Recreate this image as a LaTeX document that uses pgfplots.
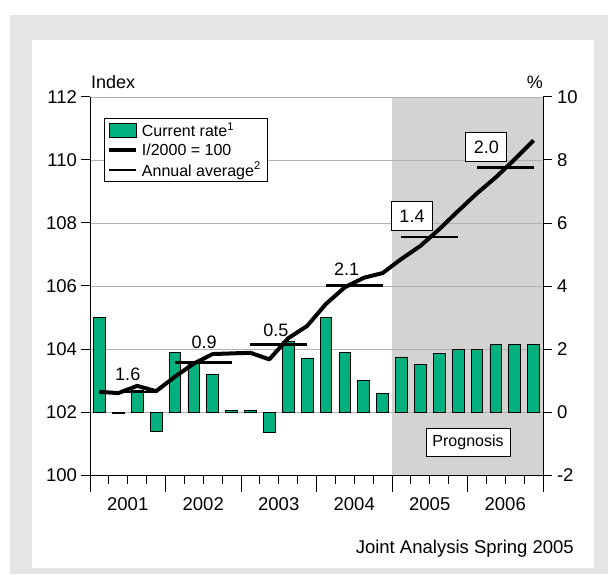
\documentclass[border=0pt]{standalone}
\usepackage{pgfplots}
\pgfplotsset{compat=1.18}
\usepackage{fontspec}
\setmainfont{Liberation Sans}
\definecolor{bargreen}{RGB}{0,176,126}
\definecolor{proggray}{RGB}{211,211,211}
\definecolor{framegray}{RGB}{229,229,229}
\definecolor{gridgray}{RGB}{178,178,178}

\pgfplotsset{
  base/.style={
    scale only axis, width=453pt, height=378pt,
    at={(90pt,99pt)}, anchor=south west,
    xmin=0.5, xmax=24.5,
    /pgf/number format/assume math mode=true,
    tick label style={font=\fontsize{18.5}{21}\selectfont},
  }
}

\begin{document}
\begin{tikzpicture}[x=1pt,y=1pt]
\useasboundingbox (0,0) rectangle (608,574);
\fill[white] (0,0) rectangle (608,574);
\fill[framegray] (10,0) rectangle (608,559);
\fill[white] (32,6) rectangle (594,534);

% prognosis background
\begin{axis}[base, ymin=-2, ymax=10, hide axis]
  \fill[proggray] (axis cs:16.5,-2) rectangle (axis cs:24.5,10);
\end{axis}

% bars, right axis, x axis
\begin{axis}[base, ymin=-2, ymax=10,
  axis x line*=bottom, axis y line*=right,
  axis line style={line width=1pt, black},
  ytick={-2,0,...,10}, yticklabels={-2,0,2,4,6,8,10},
  yticklabel style={xshift=2pt},
  ymajorgrids, grid style={gridgray, line width=0.8pt},
  tick align=outside, major tick length=8.5pt, minor tick length=8.5pt,
  tick style={black, line width=1pt},
  xtick={2.5,6.5,...,22.5}, xticklabels={2001,2002,2003,2004,2005,2006},
  minor xtick={1.5,3.5,5.5,7.5,9.5,11.5,13.5,15.5,17.5,19.5,21.5,23.5},
  extra x ticks={0.5,4.5,...,24.5}, extra x tick labels={},
  extra x tick style={major tick length=17pt},
  xticklabel style={yshift=-11pt},
]
\addplot[ybar, bar width=11.7pt, bar shift=0pt, fill=bargreen, draw=black, line width=0.7pt]
coordinates {
(1,3.0) (2,-0.03) (3,0.7) (4,-0.6) (5,1.9) (6,1.55) (7,1.2) (8,0.05)
(9,0.05) (10,-0.65) (11,2.25) (12,1.7) (13,3.0) (14,1.9) (15,1.0) (16,0.6)
(17,1.75) (18,1.5) (19,1.85) (20,2.0) (21,2.0) (22,2.15) (23,2.15) (24,2.15)
};
\end{axis}

% index line, left axis
\begin{axis}[base, ymin=100, ymax=112, clip=false,
  hide x axis, axis y line*=left,
  axis line style={line width=1pt, black},
  ytick={100,102,...,112},
  yticklabel style={xshift=-1pt},
  tick align=outside, major tick length=8.5pt,
  tick style={black, line width=1pt},
  legend style={at={(rel axis cs:0.031,0.944)}, anchor=north west,
    draw=black, line width=0.8pt, fill=white,
    font=\fontsize{16}{19}\selectfont,
    inner xsep=3pt, inner ysep=4pt, row sep=5.5pt,
    nodes={inner xsep=3.5pt, inner ysep=0pt}, cells={anchor=west}},
  legend image code/.code={\draw[#1] (0pt,0pt) -- (27pt,0pt);},
]
\addlegendimage{legend image code/.code={\draw[fill=bargreen,draw=black,line width=0.8pt] (0pt,-7pt) rectangle (27pt,7pt);}}
\addlegendentry{Current rate\textsuperscript{1}}

\addplot[black, line width=4pt, line join=round] coordinates {
(1,102.64) (2,102.60) (3,102.83) (4,102.66) (5,103.12) (6,103.54) (7,103.84) (8,103.86)
(9,103.88) (10,103.67) (11,104.34) (12,104.73) (13,105.43) (14,105.96) (15,106.26) (16,106.41)
(17,106.86) (18,107.27) (19,107.80) (20,108.38) (21,108.94) (22,109.45) (23,110.02) (24,110.62)
};
\addlegendentry{I/2000 = 100}

\addplot[black, line width=2.3pt, unbounded coords=jump] coordinates {
(1,102.64) (4,102.64) (4.5,nan)
(5,103.57) (8,103.57) (8.5,nan)
(9,104.14) (12,104.14) (12.5,nan)
(13,106.02) (16,106.02) (16.5,nan)
(17,107.56) (20,107.56) (20.5,nan)
(21,109.76) (24,109.76)
};
\addlegendentry{Annual average\textsuperscript{2}}

\begin{scope}[font=\fontsize{18}{21}\selectfont]
\node at (axis cs:2.5,103.21) {1.6};
\node at (axis cs:6.55,104.22) {0.9};
\node at (axis cs:10.35,104.6) {0.5};
\node at (axis cs:14.1,106.54) {2.1};
\node[draw=black, fill=white, line width=0.8pt, minimum width=41pt, minimum height=29pt, inner sep=0pt] at (axis cs:17.56,108.22) {1.4};
\node[draw=black, fill=white, line width=0.8pt, minimum width=41pt, minimum height=29pt, inner sep=0pt] at (axis cs:21.5,110.4) {2.0};
\node[draw=black, fill=white, line width=0.8pt, minimum width=84pt, minimum height=28pt, inner sep=0pt, font=\fontsize{16}{19}\selectfont] at (axis cs:20.53,101.05) {Prognosis};
\node[anchor=base west, inner sep=0pt] at ([xshift=1pt,yshift=8pt]rel axis cs:0,1) {Index};
\node[anchor=base east, inner sep=0pt] at ([yshift=8pt]rel axis cs:1,1) {\%};
\end{scope}
\end{axis}

\node[anchor=base east, inner sep=0pt, font=\fontsize{18.5}{22}\selectfont] at (574,20.4) {Joint Analysis Spring 2005};
\end{tikzpicture}
\end{document}
